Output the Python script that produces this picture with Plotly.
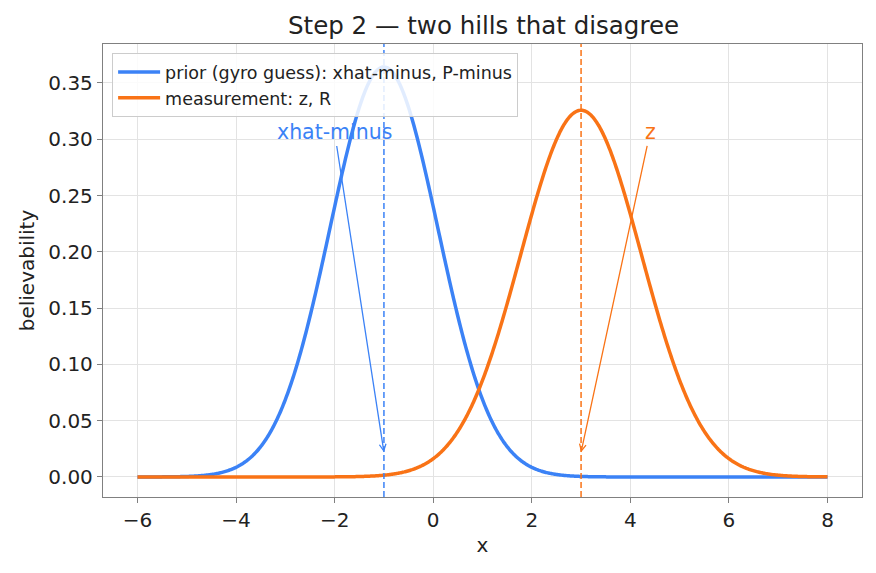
import numpy as np
import plotly.graph_objects as go

# Parameters
xhat_minus = -1.0   # prior mean
P_minus = 1.2       # prior variance
z = 3.0             # measurement
R = 1.5             # measurement variance
x_min, x_max = -6.0, 8.0

x_ticks = [-6, -4, -2, 0, 2, 4, 6, 8]
y_ticks = [0.00, 0.05, 0.10, 0.15, 0.20, 0.25, 0.30, 0.35]

BLUE = "#3b82f6"
ORANGE = "#f97316"

xs = np.linspace(x_min, x_max, 800)
def gauss(x, m, v):
    return np.exp(-(x - m) ** 2 / (2 * v)) / np.sqrt(2 * np.pi * v)

prior = gauss(xs, xhat_minus, P_minus)
meas = gauss(xs, z, R)

font = "DejaVu Sans"
ink = "#222222"
fig = go.Figure()
fig.add_trace(go.Scatter(x=xs, y=prior, mode="lines",
                         line=dict(color=BLUE, width=3.5, simplify=False),
                         name="prior (gyro guess): xhat-minus, P-minus"))
fig.add_trace(go.Scatter(x=xs, y=meas, mode="lines",
                         line=dict(color=ORANGE, width=3.5, simplify=False),
                         name="measurement: z, R"))

for xv, c in [(xhat_minus, BLUE), (z, ORANGE)]:
    fig.add_shape(type="line", xref="x", yref="paper", x0=xv, x1=xv, y0=0, y1=1,
                  line=dict(color=c, width=1.5, dash="6px,3px"))

fig.add_annotation(x=xhat_minus, y=0.022, ax=-2.0, ay=0.306, xref="x", yref="y",
                   axref="x", ayref="y", text="xhat-minus", showarrow=True,
                   arrowhead=5, arrowsize=1, arrowwidth=1.3, arrowcolor=BLUE,
                   font=dict(color=BLUE, size=20.5, family=font))
fig.add_annotation(x=z, y=0.022, ax=4.4, ay=0.306, xref="x", yref="y",
                   axref="x", ayref="y", text="z", showarrow=True,
                   arrowhead=5, arrowsize=1, arrowwidth=1.3, arrowcolor=ORANGE,
                   font=dict(color=ORANGE, size=20.5, family=font))

axis_common = dict(showline=True, linecolor="#808080", linewidth=1.3, mirror=True,
                   ticks="outside", ticklen=5, tickcolor="#808080", tickwidth=1.2,
                   showgrid=True, gridcolor="#e3e3e3", gridwidth=0.8, zeroline=False,
                   tickfont=dict(size=20, family=font, color=ink))
fig.update_xaxes(range=[-6.7, 8.7], tickvals=x_ticks,
                 ticktext=[str(t).replace("-", "\u2212") for t in x_ticks],
                 title=dict(text="x", font=dict(size=20, family=font, color=ink), standoff=6),
                 **axis_common)
fig.update_yaxes(range=[-0.0178, 0.3846], tickvals=y_ticks,
                 ticktext=[f"{t:.2f}" for t in y_ticks],
                 title=dict(text="believability", font=dict(size=20, family=font, color=ink), standoff=8),
                 **axis_common)

fig.update_layout(
    width=876, height=573,
    margin=dict(l=103, r=14, t=44, b=76),
    paper_bgcolor="white", plot_bgcolor="white",
    title=dict(text="Step 2 \u2014 two hills that disagree", x=0.552, xanchor="center",
               y=0.955, yanchor="middle", font=dict(size=24.5, family=font, color=ink)),
    legend=dict(x=0.012, y=0.98, xanchor="left", yanchor="top",
                bgcolor="rgba(255,255,255,0.85)", bordercolor="#cccccc", borderwidth=1,
                itemwidth=42,
                font=dict(size=17.5, family=font, color=ink), tracegroupgap=0),
    showlegend=True,
)

fig.write_html("out.html")
